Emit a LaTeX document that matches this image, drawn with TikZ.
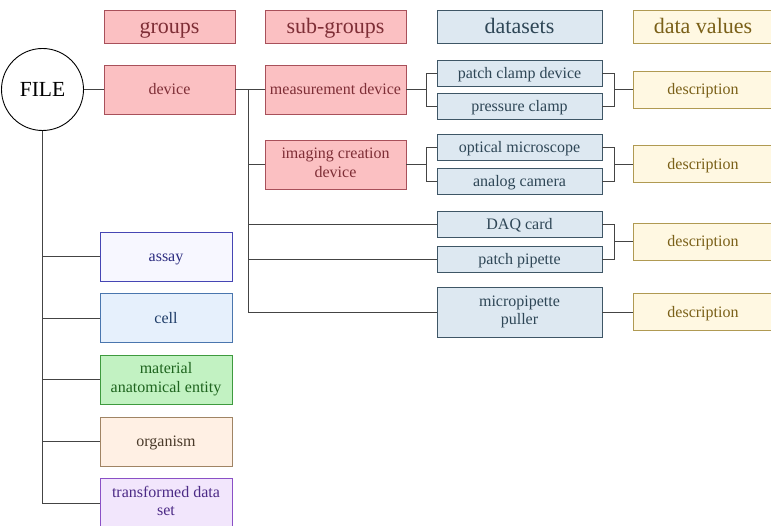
\documentclass[tikz,border=0pt]{standalone}
\usepackage{fontspec}
\setmainfont{Liberation Serif}
\newfontfamily\boxfont{Liberation Serif}
\usetikzlibrary{positioning}

\definecolor{grpfill}{HTML}{FBC0C2}
\definecolor{grpdraw}{HTML}{A8505A}
\definecolor{grptext}{HTML}{7E2E36}
\definecolor{dsfill}{HTML}{DDE8F1}
\definecolor{dsdraw}{HTML}{3E5666}
\definecolor{dstext}{HTML}{2E4656}
\definecolor{dvfill}{HTML}{FFF8E2}
\definecolor{dvdraw}{HTML}{B09A52}
\definecolor{dvtext}{HTML}{7A6018}
\definecolor{asfill}{HTML}{F7F7FF}
\definecolor{asdraw}{HTML}{4646B4}
\definecolor{astext}{HTML}{2C2C80}
\definecolor{cefill}{HTML}{E6F0FC}
\definecolor{cedraw}{HTML}{4A76AE}
\definecolor{cetext}{HTML}{1E3C68}
\definecolor{mafill}{HTML}{C2F2C2}
\definecolor{madraw}{HTML}{3E9A3E}
\definecolor{matext}{HTML}{1E641E}
\definecolor{orfill}{HTML}{FFF0E4}
\definecolor{ordraw}{HTML}{A08464}
\definecolor{ortext}{HTML}{4A3A2A}
\definecolor{trfill}{HTML}{F2E6FC}
\definecolor{trdraw}{HTML}{8A50C6}
\definecolor{trtext}{HTML}{4C2A86}
\definecolor{wire}{HTML}{444444}

\newcommand\boxstrut{\rule[-0.22\baselineskip]{0pt}{\baselineskip}}

\begin{document}
\begin{tikzpicture}[x=1pt,y=-1pt,
		box/.style={draw,rectangle,line width=0.9pt,align=center,inner sep=2pt,font=\boxfont\fontsize{16}{18.5}\selectfont,
			execute at begin node=\boxstrut,execute at end node=\boxstrut},
		head/.style={box,minimum height=33pt,font=\boxfont\fontsize{22}{24}\selectfont},
		grp/.style={fill=grpfill,draw=grpdraw,text=grptext},
		dset/.style={fill=dsfill,draw=dsdraw,text=dstext,minimum width=165pt},
		dval/.style={fill=dvfill,draw=dvdraw,text=dvtext,minimum width=140pt},
		other/.style={box,minimum width=132pt,minimum height=49pt},
		wire/.style={draw=wire,line width=0.9pt}]
				\path[use as bounding box,clip] (0,0) rectangle (771,526);
				% Headers
				\node[head,grp,minimum width=131pt] (hgrp) at (169.5,26.5) {groups};
				\node[head,grp,minimum width=141pt] (hsub) at (335.5,26.5) {sub-groups};
				\node[head,dset] (hds) at (519.5,26.5) {datasets};
				\node[head,dval] (hdv) at (703,26.5) {data values};
				% File and groups
				\node[draw,circle,line width=0.9pt,minimum size=82pt,inner sep=0pt,font=\boxfont\fontsize{21.5}{24}\selectfont] (file) at (42.5,89.5) {FILE};
				\node[box,grp,minimum width=131pt,minimum height=49pt] (dev) at (169.5,89.5) {device};
				\node[other,fill=asfill,draw=asdraw,text=astext] (assay) at (166,256.5) {assay};
				\node[other,fill=cefill,draw=cedraw,text=cetext] (cell) at (166,318) {cell};
				\node[other,fill=mafill,draw=madraw,text=matext] (mat) at (166,379.5) {material\\anatomical entity};
				\node[other,fill=orfill,draw=ordraw,text=ortext] (org) at (166,441.5) {organism};
				\node[other,fill=trfill,draw=trdraw,text=trtext] (tds) at (166,503) {transformed data\\set};
				% Sub-groups
				\node[box,grp,minimum width=141pt,minimum height=49pt] (meas) at (335.5,89.5) {measurement device};
				\node[box,grp,minimum width=141pt,minimum height=49pt] (img) at (335.5,164.5) {imaging creation\\device};
				% Datasets
				\node[box,dset,minimum height=26pt] (pcd) at (519.5,73) {patch clamp device};
				\node[box,dset,minimum height=26pt] (prc) at (519.5,106) {pressure clamp};
				\node[box,dset,minimum height=26pt] (opt) at (519.5,147) {optical microscope};
				\node[box,dset,minimum height=26pt] (cam) at (519.5,181) {analog camera};
				\node[box,dset,minimum height=26pt] (daq) at (519.5,224) {DAQ card};
				\node[box,dset,minimum height=26pt] (pip) at (519.5,259) {patch pipette};
				\node[box,dset,minimum height=50pt] (pul) at (519.5,312) {micropipette\\puller};
				% Data values
				\node[box,dval,minimum height=37pt] (d1) at (703,89.5) {description};
				\node[box,dval,minimum height=37pt] (d2) at (703,164) {description};
				\node[box,dval,minimum height=37pt] (d3) at (703,241.5) {description};
				\node[box,dval,minimum height=37pt] (d4) at (703,312) {description};
				% Connectors
				\draw[wire] (file) -- (dev);
				\foreach \g in {assay,cell,mat,org,tds}
					\draw[wire] (file.south) |- (\g.west);
				\draw[wire] (dev) -- (meas);
				\coordinate (bus) at (248,89.5);
				\foreach \d in {img,daq,pip,pul}
					\draw[wire] (bus) |- (\d.west);
				\draw[wire] (meas.east) -- ++(20,0) coordinate (f1);
				\draw[wire] (f1) |- (pcd.west) (f1) |- (prc.west);
				\draw[wire] (img.east) -- ++(20,0) coordinate (f2);
				\draw[wire] (f2) |- (opt.west) (f2) |- (cam.west);
				\foreach \a/\b in {pcd/d1,prc/d1,opt/d2,cam/d2,daq/d3,pip/d3}
					\draw[wire] (\a.east) -- ++(12,0) |- (\b.west);
				\draw[wire] (pul) -- (d4);
			\end{tikzpicture}
\end{document}
